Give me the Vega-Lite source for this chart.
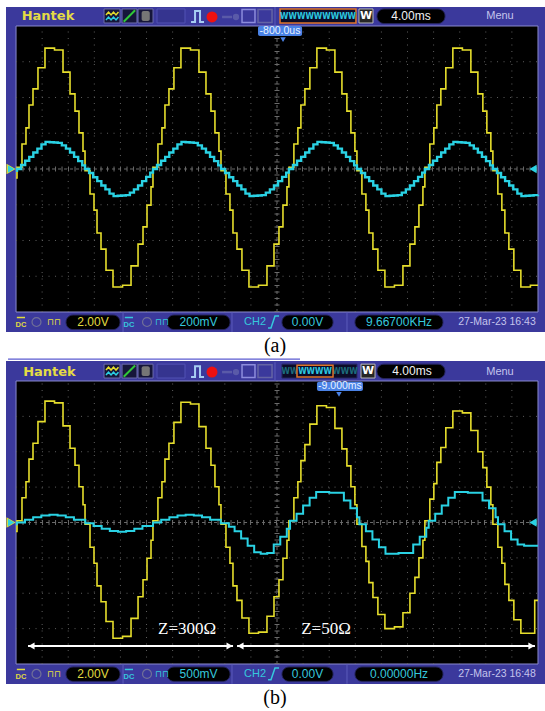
{
"$schema": "https://vega.github.io/schema/vega-lite/v6.json",
"background": "#ffffff",
"padding": {"left": 6, "top": 6, "right": 0, "bottom": 0},
"spacing": 29,
"bounds": "flush",
"config": {"view": {"stroke": null}},
"datasets": {
 "plot": [{"t": -32, "t2": 32, "v": -4, "v2": 4}],
 "vgrid": [{"t":-28.8,"v":-4,"v2":4},{"t":-25.6,"v":-4,"v2":4},{"t":-22.4,"v":-4,"v2":4},{"t":-19.2,"v":-4,"v2":4},{"t":-16,"v":-4,"v2":4},{"t":-12.8,"v":-4,"v2":4},{"t":-9.6,"v":-4,"v2":4},{"t":-6.4,"v":-4,"v2":4},{"t":-3.2,"v":-4,"v2":4},{"t":3.2,"v":-4,"v2":4},{"t":6.4,"v":-4,"v2":4},{"t":9.6,"v":-4,"v2":4},{"t":12.8,"v":-4,"v2":4},{"t":16,"v":-4,"v2":4},{"t":19.2,"v":-4,"v2":4},{"t":22.4,"v":-4,"v2":4},{"t":25.6,"v":-4,"v2":4},{"t":28.8,"v":-4,"v2":4}],
 "hgrid": [{"t":-32,"t2":32,"v":-3},{"t":-32,"t2":32,"v":-2},{"t":-32,"t2":32,"v":-1},{"t":-32,"t2":32,"v":1},{"t":-32,"t2":32,"v":2},{"t":-32,"t2":32,"v":3}],
 "hzero": [{"t": -32, "t2": 32, "v": 0}],
 "vzero": [{"t": 0, "v": -4, "v2": 4}],
 "iconBoxes": [{"t":-21.21,"t2":-19.25,"v":4.084,"v2":4.476},{"t":-19.0,"t2":-17.17,"v":4.084,"v2":4.476},{"t":-17.04,"t2":-15.2,"v":4.084,"v2":4.476}],
 "waveIconY": [{"i":1,"t":-20.97,"v":4.31},{"i":2,"t":-20.66,"v":4.39},{"i":3,"t":-20.35,"v":4.31},{"i":4,"t":-20.05,"v":4.39},{"i":5,"t":-19.74,"v":4.31},{"i":6,"t":-19.44,"v":4.39}],
 "waveIconC": [{"i":1,"t":-20.97,"v":4.17},{"i":2,"t":-20.66,"v":4.25},{"i":3,"t":-20.35,"v":4.17},{"i":4,"t":-20.05,"v":4.25},{"i":5,"t":-19.74,"v":4.17},{"i":6,"t":-19.44,"v":4.25}],
 "pulse": [{"i":1,"t":-10.54,"v":4.112},{"i":2,"t":-10.05,"v":4.112},{"i":3,"t":-10.05,"v":4.42},{"i":4,"t":-9.44,"v":4.42},{"i":5,"t":-9.44,"v":4.112},{"i":6,"t":-8.95,"v":4.112}],
 "edge": [{"i":1,"t":-1.1,"v":-4.448},{"i":2,"t":-0.74,"v":-4.448},{"i":3,"t":-0.25,"v":-4.112},{"i":4,"t":0.25,"v":-4.112}],
 "pills": [{"t":12.26,"t2":20.6,"v":4.07,"v2":4.476},{"t":-25.87,"t2":-19.25,"v":-4.49,"v2":-4.084},{"t":-13.49,"t2":-5.76,"v":-4.49,"v2":-4.084},{"t":0.61,"t2":6.87,"v":-4.49,"v2":-4.084},{"t":9.56,"t2":20.35,"v":-4.49,"v2":-4.084}],
 "seps": [{"t":-0.25,"v":4.0,"v2":4.531},{"t":-18.88,"v":-4.0,"v2":-4.559},{"t":-5.52,"v":-4.0,"v2":-4.559},{"t":8.58,"v":-4.0,"v2":-4.559}],
 "outlines": [{"t":-4.29,"t2":-2.7,"v":4.1,"v2":4.46}],
 "outlinesDim": [{"t":-2.33,"t2":-0.61,"v":4.1,"v2":4.46}],
 "ch1a": [{"t":-32,"v":-0.25},{"t":-31.88,"v":0.05},{"t":-31.27,"v":0.7},{"t":-30.78,"v":1.15},{"t":-30.41,"v":1.79},{"t":-29.92,"v":2.24},{"t":-29.31,"v":2.83},{"t":-28.45,"v":3.38},{"t":-27.28,"v":3.33},{"t":-26.24,"v":2.71},{"t":-25.38,"v":2.1},{"t":-24.77,"v":1.62},{"t":-24.28,"v":1.01},{"t":-23.79,"v":0.5},
  {"t":-23.54,"v":-0.05},{"t":-22.93,"v":-0.7},{"t":-22.44,"v":-1.15},{"t":-22.07,"v":-1.79},{"t":-21.58,"v":-2.24},{"t":-20.97,"v":-2.83},{"t":-20.11,"v":-3.3},{"t":-18.94,"v":-3.25},{"t":-17.9,"v":-2.71},{"t":-17.04,"v":-2.1},{"t":-16.43,"v":-1.62},{"t":-15.94,"v":-1.01},{"t":-15.45,"v":-0.5},
  {"t":-15.21,"v":0.05},{"t":-14.6,"v":0.7},{"t":-14.11,"v":1.15},{"t":-13.74,"v":1.79},{"t":-13.25,"v":2.24},{"t":-12.64,"v":2.83},{"t":-11.78,"v":3.38},{"t":-10.61,"v":3.33},{"t":-9.57,"v":2.71},{"t":-8.71,"v":2.1},{"t":-8.1,"v":1.62},{"t":-7.61,"v":1.01},{"t":-7.12,"v":0.5},
  {"t":-6.87,"v":-0.05},{"t":-6.26,"v":-0.7},{"t":-5.77,"v":-1.15},{"t":-5.4,"v":-1.79},{"t":-4.91,"v":-2.24},{"t":-4.3,"v":-2.83},{"t":-3.44,"v":-3.3},{"t":-2.27,"v":-3.25},{"t":-1.23,"v":-2.71},{"t":-0.37,"v":-2.1},{"t":0.24,"v":-1.62},{"t":0.73,"v":-1.01},{"t":1.22,"v":-0.5},
  {"t":1.46,"v":0.05},{"t":2.07,"v":0.7},{"t":2.56,"v":1.15},{"t":2.93,"v":1.79},{"t":3.42,"v":2.24},{"t":4.03,"v":2.83},{"t":4.89,"v":3.38},{"t":6.06,"v":3.33},{"t":7.1,"v":2.71},{"t":7.96,"v":2.1},{"t":8.57,"v":1.62},{"t":9.06,"v":1.01},{"t":9.55,"v":0.5},
  {"t":9.8,"v":-0.05},{"t":10.41,"v":-0.7},{"t":10.9,"v":-1.15},{"t":11.27,"v":-1.79},{"t":11.76,"v":-2.24},{"t":12.37,"v":-2.83},{"t":13.23,"v":-3.3},{"t":14.4,"v":-3.25},{"t":15.44,"v":-2.71},{"t":16.3,"v":-2.1},{"t":16.91,"v":-1.62},{"t":17.4,"v":-1.01},{"t":17.89,"v":-0.5},
  {"t":18.13,"v":0.05},{"t":18.74,"v":0.7},{"t":19.23,"v":1.15},{"t":19.6,"v":1.79},{"t":20.09,"v":2.24},{"t":20.7,"v":2.83},{"t":21.56,"v":3.38},{"t":22.73,"v":3.33},{"t":23.77,"v":2.71},{"t":24.63,"v":2.1},{"t":25.24,"v":1.62},{"t":25.73,"v":1.01},{"t":26.22,"v":0.5},
  {"t":26.47,"v":-0.05},{"t":27.08,"v":-0.7},{"t":27.57,"v":-1.15},{"t":27.94,"v":-1.79},{"t":28.43,"v":-2.24},{"t":29.04,"v":-2.83},{"t":29.9,"v":-3.3},{"t":31.07,"v":-3.25},{"t":32,"v":-3.25}],
 "ch1b": [{"t":-32,"v":-0.25},{"t":-31.88,"v":0.05},{"t":-31.27,"v":0.7},{"t":-30.78,"v":1.15},{"t":-30.41,"v":1.79},{"t":-29.92,"v":2.24},{"t":-29.31,"v":2.85},{"t":-28.45,"v":3.43},{"t":-27.28,"v":3.38},{"t":-26.24,"v":2.73},{"t":-25.38,"v":2.1},{"t":-24.77,"v":1.62},{"t":-24.28,"v":1.01},{"t":-23.79,"v":0.5},
  {"t":-23.54,"v":-0.05},{"t":-22.93,"v":-0.7},{"t":-22.44,"v":-1.15},{"t":-22.07,"v":-1.79},{"t":-21.58,"v":-2.24},{"t":-20.97,"v":-2.8},{"t":-20.11,"v":-3.27},{"t":-18.94,"v":-3.22},{"t":-17.9,"v":-2.71},{"t":-17.04,"v":-2.1},{"t":-16.43,"v":-1.62},{"t":-15.94,"v":-1.01},{"t":-15.45,"v":-0.5},
  {"t":-15.21,"v":0.05},{"t":-14.6,"v":0.7},{"t":-14.11,"v":1.15},{"t":-13.74,"v":1.79},{"t":-13.25,"v":2.24},{"t":-12.64,"v":2.83},{"t":-11.78,"v":3.4},{"t":-10.61,"v":3.35},{"t":-9.57,"v":2.71},{"t":-8.71,"v":2.1},{"t":-8.1,"v":1.62},{"t":-7.61,"v":1.01},{"t":-7.12,"v":0.5},
  {"t":-6.87,"v":-0.05},{"t":-6.26,"v":-0.7},{"t":-5.77,"v":-1.15},{"t":-5.4,"v":-1.79},{"t":-4.91,"v":-2.2},{"t":-4.3,"v":-2.7},{"t":-3.44,"v":-3.13},{"t":-2.27,"v":-3.1},{"t":-1.23,"v":-2.65},{"t":-0.37,"v":-2.1},{"t":0.24,"v":-1.62},{"t":0.73,"v":-1.01},{"t":1.22,"v":-0.5},
  {"t":1.46,"v":0.05},{"t":2.07,"v":0.7},{"t":2.56,"v":1.15},{"t":2.93,"v":1.75},{"t":3.42,"v":2.2},{"t":4.03,"v":2.78},{"t":4.89,"v":3.3},{"t":6.06,"v":3.25},{"t":7.1,"v":2.66},{"t":7.96,"v":2.08},{"t":8.57,"v":1.6},{"t":9.06,"v":1.01},{"t":9.55,"v":0.5},
  {"t":9.8,"v":-0.05},{"t":10.41,"v":-0.68},{"t":10.9,"v":-1.1},{"t":11.27,"v":-1.7},{"t":11.76,"v":-2.12},{"t":12.37,"v":-2.6},{"t":13.23,"v":-3.0},{"t":14.4,"v":-2.95},{"t":15.44,"v":-2.55},{"t":16.3,"v":-2.0},{"t":16.91,"v":-1.55},{"t":17.4,"v":-1.0},{"t":17.89,"v":-0.5},
  {"t":18.13,"v":0.05},{"t":18.74,"v":0.66},{"t":19.23,"v":1.1},{"t":19.6,"v":1.7},{"t":20.09,"v":2.12},{"t":20.7,"v":2.68},{"t":21.56,"v":3.15},{"t":22.73,"v":3.1},{"t":23.77,"v":2.6},{"t":24.63,"v":2.0},{"t":25.24,"v":1.55},{"t":25.73,"v":1.0},{"t":26.22,"v":0.5},
  {"t":26.47,"v":-0.05},{"t":27.08,"v":-0.7},{"t":27.57,"v":-1.15},{"t":27.94,"v":-1.75},{"t":28.43,"v":-2.2},{"t":29.04,"v":-2.75},{"t":29.9,"v":-3.13},{"t":31.6,"v":-2.2},{"t":32,"v":-2.2}],
 "ch2a": [{"t":-32,"v":-0.05},
  {"t":-31.88,"v":0},{"t":-31.38,"v":0.11},{"t":-30.88,"v":0.23},{"t":-30.38,"v":0.34},{"t":-29.88,"v":0.46},{"t":-29.38,"v":0.57},{"t":-28.88,"v":0.69},{"t":-28.38,"v":0.76},{"t":-27.88,"v":0.75},{"t":-27.38,"v":0.74},{"t":-26.88,"v":0.73},{"t":-26.38,"v":0.66},{"t":-25.88,"v":0.57},{"t":-25.38,"v":0.46},{"t":-24.88,"v":0.34},{"t":-24.38,"v":0.22},{"t":-23.88,"v":0.1},
  {"t":-23.54,"v":0},{"t":-23.04,"v":-0.11},{"t":-22.54,"v":-0.23},{"t":-22.04,"v":-0.34},{"t":-21.54,"v":-0.46},{"t":-21.04,"v":-0.57},{"t":-20.54,"v":-0.69},{"t":-20.04,"v":-0.76},{"t":-19.54,"v":-0.75},{"t":-19.04,"v":-0.74},{"t":-18.54,"v":-0.73},{"t":-18.04,"v":-0.66},{"t":-17.54,"v":-0.57},{"t":-17.04,"v":-0.46},{"t":-16.54,"v":-0.34},{"t":-16.04,"v":-0.22},{"t":-15.54,"v":-0.1},
  {"t":-15.21,"v":0},{"t":-14.71,"v":0.11},{"t":-14.21,"v":0.23},{"t":-13.71,"v":0.34},{"t":-13.21,"v":0.46},{"t":-12.71,"v":0.57},{"t":-12.21,"v":0.69},{"t":-11.71,"v":0.76},{"t":-11.21,"v":0.75},{"t":-10.71,"v":0.74},{"t":-10.21,"v":0.73},{"t":-9.71,"v":0.66},{"t":-9.21,"v":0.57},{"t":-8.71,"v":0.46},{"t":-8.21,"v":0.34},{"t":-7.71,"v":0.22},{"t":-7.21,"v":0.1},
  {"t":-6.87,"v":0},{"t":-6.37,"v":-0.11},{"t":-5.87,"v":-0.23},{"t":-5.37,"v":-0.34},{"t":-4.87,"v":-0.46},{"t":-4.37,"v":-0.57},{"t":-3.87,"v":-0.69},{"t":-3.37,"v":-0.76},{"t":-2.87,"v":-0.75},{"t":-2.37,"v":-0.74},{"t":-1.87,"v":-0.73},{"t":-1.37,"v":-0.66},{"t":-0.87,"v":-0.57},{"t":-0.37,"v":-0.46},{"t":0.13,"v":-0.34},{"t":0.63,"v":-0.22},{"t":1.13,"v":-0.1},
  {"t":1.46,"v":0},{"t":1.96,"v":0.11},{"t":2.46,"v":0.23},{"t":2.96,"v":0.34},{"t":3.46,"v":0.46},{"t":3.96,"v":0.57},{"t":4.46,"v":0.69},{"t":4.96,"v":0.76},{"t":5.46,"v":0.75},{"t":5.96,"v":0.74},{"t":6.46,"v":0.73},{"t":6.96,"v":0.66},{"t":7.46,"v":0.57},{"t":7.96,"v":0.46},{"t":8.46,"v":0.34},{"t":8.96,"v":0.22},{"t":9.46,"v":0.1},
  {"t":9.8,"v":0},{"t":10.3,"v":-0.11},{"t":10.8,"v":-0.23},{"t":11.3,"v":-0.34},{"t":11.8,"v":-0.46},{"t":12.3,"v":-0.57},{"t":12.8,"v":-0.69},{"t":13.3,"v":-0.76},{"t":13.8,"v":-0.75},{"t":14.3,"v":-0.74},{"t":14.8,"v":-0.73},{"t":15.3,"v":-0.66},{"t":15.8,"v":-0.57},{"t":16.3,"v":-0.46},{"t":16.8,"v":-0.34},{"t":17.3,"v":-0.22},{"t":17.8,"v":-0.1},
  {"t":18.13,"v":0},{"t":18.63,"v":0.11},{"t":19.13,"v":0.23},{"t":19.63,"v":0.34},{"t":20.13,"v":0.46},{"t":20.63,"v":0.57},{"t":21.13,"v":0.69},{"t":21.63,"v":0.76},{"t":22.13,"v":0.75},{"t":22.63,"v":0.74},{"t":23.13,"v":0.73},{"t":23.63,"v":0.66},{"t":24.13,"v":0.57},{"t":24.63,"v":0.46},{"t":25.13,"v":0.34},{"t":25.63,"v":0.22},{"t":26.13,"v":0.1},
  {"t":26.47,"v":0},{"t":26.97,"v":-0.11},{"t":27.47,"v":-0.23},{"t":27.97,"v":-0.34},{"t":28.47,"v":-0.46},{"t":28.97,"v":-0.57},{"t":29.47,"v":-0.69},{"t":29.97,"v":-0.76},{"t":30.47,"v":-0.75},{"t":30.97,"v":-0.74},{"t":31.47,"v":-0.73},{"t":32,"v":-0.72}],
 "ch2b": [{"t":-32,"v":-0.05},{"t":-31.9,"v":0},{"t":-30.9,"v":0.08},{"t":-29.9,"v":0.15},{"t":-28.9,"v":0.2},{"t":-27.9,"v":0.22},{"t":-26.9,"v":0.2},{"t":-25.9,"v":0.15},{"t":-24.9,"v":0.08},
  {"t":-23.5,"v":-0.02},{"t":-22.5,"v":-0.1},{"t":-21.5,"v":-0.18},{"t":-20.5,"v":-0.24},{"t":-19.5,"v":-0.26},{"t":-18.5,"v":-0.24},{"t":-17.5,"v":-0.18},{"t":-16.5,"v":-0.1},
  {"t":-15.2,"v":0},{"t":-14.2,"v":0.08},{"t":-13.2,"v":0.15},{"t":-12.2,"v":0.2},{"t":-11.2,"v":0.22},{"t":-10.2,"v":0.2},{"t":-9.2,"v":0.15},{"t":-8.2,"v":0.08},
  {"t":-6.9,"v":-0.02},{"t":-5.9,"v":-0.12},{"t":-5.2,"v":-0.25},{"t":-4.4,"v":-0.45},{"t":-3.6,"v":-0.66},{"t":-2.8,"v":-0.84},{"t":-2.0,"v":-0.88},{"t":-1.2,"v":-0.86},{"t":-0.4,"v":-0.62},{"t":0.4,"v":-0.4},{"t":1.2,"v":-0.18},
  {"t":1.6,"v":0.05},{"t":2.4,"v":0.25},{"t":3.2,"v":0.48},{"t":4.0,"v":0.7},{"t":4.8,"v":0.86},{"t":5.6,"v":0.86},{"t":6.4,"v":0.84},{"t":7.2,"v":0.84},{"t":8.2,"v":0.62},{"t":9.0,"v":0.4},{"t":9.8,"v":0.15},
  {"t":10.1,"v":-0.05},{"t":10.9,"v":-0.25},{"t":11.7,"v":-0.48},{"t":12.5,"v":-0.7},{"t":13.3,"v":-0.88},{"t":14.1,"v":-0.88},{"t":14.9,"v":-0.86},{"t":15.7,"v":-0.86},{"t":16.7,"v":-0.62},{"t":17.5,"v":-0.4},{"t":18.3,"v":-0.15},
  {"t":18.6,"v":0.05},{"t":19.4,"v":0.25},{"t":20.2,"v":0.48},{"t":21.0,"v":0.7},{"t":21.8,"v":0.86},{"t":22.6,"v":0.86},{"t":23.4,"v":0.84},{"t":24.2,"v":0.84},{"t":25.2,"v":0.62},{"t":26.0,"v":0.4},{"t":26.8,"v":0.15},
  {"t":27.1,"v":-0.05},{"t":27.9,"v":-0.25},{"t":28.7,"v":-0.48},{"t":29.5,"v":-0.62},{"t":30.3,"v":-0.66},{"t":32,"v":-0.66}]
},
"vconcat": [
{
 "width": 539, "height": 325,
 "view": {"fill": "#3b399c", "stroke": null},
 "encoding": {
  "x": {"field": "t", "type": "quantitative", "scale": {"domain": [-33.23, 32.86], "nice": false, "zero": false}, "axis": null},
  "y": {"field": "v", "type": "quantitative", "scale": {"domain": [-4.559, 4.531], "nice": false, "zero": false}, "axis": null}
 },
 "layer": [
  {"data": {"name": "plot"}, "mark": {"type": "rect", "fill": "#000000", "stroke": "#8a8ace", "strokeWidth": 1}, "encoding": {"x2": {"field": "t2"}, "y2": {"field": "v2"}}},
  {"data": {"name": "vgrid"}, "mark": {"type": "rule", "stroke": "#5e5e5e", "strokeWidth": 1, "strokeDash": [1, 5.5]}, "encoding": {"y2": {"field": "v2"}}},
  {"data": {"name": "hgrid"}, "mark": {"type": "rule", "stroke": "#5e5e5e", "strokeWidth": 1, "strokeDash": [1, 5.5]}, "encoding": {"x2": {"field": "t2"}}},
  {"data": {"name": "hzero"}, "mark": {"type": "rule", "stroke": "#6a6a6a", "strokeWidth": 1, "strokeDash": [3, 3]}, "encoding": {"x2": {"field": "t2"}}},
  {"data": {"name": "hzero"}, "mark": {"type": "rule", "stroke": "#6a6a6a", "strokeWidth": 5, "strokeDash": [1, 5.5]}, "encoding": {"x2": {"field": "t2"}}},
  {"data": {"name": "vzero"}, "mark": {"type": "rule", "stroke": "#6a6a6a", "strokeWidth": 1, "strokeDash": [3, 3]}, "encoding": {"y2": {"field": "v2"}}},
  {"data": {"name": "vzero"}, "mark": {"type": "rule", "stroke": "#6a6a6a", "strokeWidth": 5, "strokeDash": [1, 5.5]}, "encoding": {"y2": {"field": "v2"}}},
  {"data": {"name": "ch1a"}, "mark": {"type": "line", "interpolate": "step-after", "stroke": "#e6de2c", "strokeWidth": 1.6}, "encoding": {}},
  {"data": {"name": "ch2a"}, "mark": {"type": "line", "interpolate": "step-after", "stroke": "#2ad2e4", "strokeWidth": 2.4}, "encoding": {}},
  {"data": {"values": [{"t": -32.61, "v": 0}]}, "mark": {"type": "point", "shape": "triangle-right", "filled": true, "fill": "#e6de2c", "size": 110, "opacity": 1}, "encoding": {}},
  {"data": {"values": [{"t": -32.61, "v": 0}]}, "mark": {"type": "point", "shape": "triangle-right", "filled": true, "fill": "#2ad2e4", "size": 55, "opacity": 1}, "encoding": {}},
  {"data": {"values": [{"t": 31.39, "v": 0}]}, "mark": {"type": "point", "shape": "triangle-left", "filled": true, "fill": "#2ad2e4", "size": 70, "opacity": 1}, "encoding": {}},
  {"data": {"name": "iconBoxes"}, "mark": {"type": "rect", "fill": "#16163a", "stroke": "#6c6cac", "strokeWidth": 1}, "encoding": {"x2": {"field": "t2"}, "y2": {"field": "v2"}}},
  {"data": {"values": [{"t": -16.6, "t2": -15.6, "v": 4.14, "v2": 4.42}]}, "mark": {"type": "rect", "fill": "#767676", "cornerRadius": 2}, "encoding": {"x2": {"field": "t2"}, "y2": {"field": "v2"}}},
  {"data": {"values": [{"t": -18.8, "t2": -17.4, "v": 4.12, "v2": 4.44}]}, "mark": {"type": "rule", "stroke": "#30c838", "strokeWidth": 2}, "encoding": {"x2": {"field": "t2"}, "y2": {"field": "v2"}}},
  {"data": {"name": "waveIconY"}, "mark": {"type": "line", "stroke": "#e6de2c", "strokeWidth": 1.5}, "encoding": {"order": {"field": "i"}}},
  {"data": {"name": "waveIconC"}, "mark": {"type": "line", "stroke": "#2ad2e4", "strokeWidth": 1.5}, "encoding": {"order": {"field": "i"}}},
  {"data": {"values": [{"t": -14.71, "t2": -11.28, "v": 4.084, "v2": 4.476}]}, "mark": {"type": "rect", "fill": "#35348f", "stroke": "#5252b4", "strokeWidth": 1}, "encoding": {"x2": {"field": "t2"}, "y2": {"field": "v2"}}},
  {"data": {"name": "pulse"}, "mark": {"type": "line", "stroke": "#a6cdf2", "strokeWidth": 2}, "encoding": {"order": {"field": "i"}}},
  {"data": {"values": [{"t": -7.97, "v": 4.252}]}, "mark": {"type": "point", "shape": "circle", "filled": true, "fill": "#ee1111", "size": 120, "opacity": 1}, "encoding": {}},
  {"data": {"values": [{"t": -6.74, "t2": -5.52, "v": 4.252}]}, "mark": {"type": "rule", "stroke": "#5a5aa8", "strokeWidth": 2.5}, "encoding": {"x2": {"field": "t2"}}},
  {"data": {"values": [{"t": -5.03, "v": 4.252}]}, "mark": {"type": "point", "shape": "circle", "filled": true, "fill": "#5a5aa8", "size": 40, "opacity": 1}, "encoding": {}},
  {"data": {"name": "outlines"}, "mark": {"type": "rect", "fillOpacity": 0, "stroke": "#8c8cdc", "strokeWidth": 1.5}, "encoding": {"x2": {"field": "t2"}, "y2": {"field": "v2"}}},
  {"data": {"name": "outlinesDim"}, "mark": {"type": "rect", "fillOpacity": 0, "stroke": "#6464a4", "strokeWidth": 1.5}, "encoding": {"x2": {"field": "t2"}, "y2": {"field": "v2"}}},
  {"data": {"name": "seps"}, "mark": {"type": "rule", "stroke": "#5c5cbc", "strokeWidth": 1}, "encoding": {"y2": {"field": "v2"}}},
  {"data": {"values": [{"t": 0.37, "t2": 9.68, "v": 4.084, "v2": 4.476}]}, "mark": {"type": "rect", "fill": "#0c0c28", "stroke": "#e0742a", "strokeWidth": 1.5}, "encoding": {"x2": {"field": "t2"}, "y2": {"field": "v2"}}},
  {"data": {"values": [{"t": 5.03, "v": 4.28, "s": "WWWWWWWWW"}]}, "mark": {"type": "text", "fill": "#2cc8e0", "font": "DejaVu Sans Condensed", "fontSize": 8.5, "fontWeight": "bold"}, "encoding": {"text": {"field": "s"}}},
  {"data": {"values": [{"t": 10.05, "t2": 11.77, "v": 4.084, "v2": 4.476}]}, "mark": {"type": "rect", "fill": "#262626", "stroke": "#b8b8b8", "strokeWidth": 1}, "encoding": {"x2": {"field": "t2"}, "y2": {"field": "v2"}}},
  {"data": {"values": [{"t": 10.91, "v": 4.27, "s": "W"}]}, "mark": {"type": "text", "fill": "#ffffff", "font": "DejaVu Sans", "fontSize": 11, "fontWeight": "bold"}, "encoding": {"text": {"field": "s"}}},
  {"data": {"name": "pills"}, "mark": {"type": "rect", "fill": "#000000", "stroke": "#24245a", "strokeWidth": 1, "cornerRadius": 7}, "encoding": {"x2": {"field": "t2"}, "y2": {"field": "v2"}}},
  {"data": {"values": [{"t": 16.43, "v": 4.27, "s": "4.00ms"}]}, "mark": {"type": "text", "fill": "#f2f2f2", "font": "Liberation Sans", "fontSize": 12}, "encoding": {"text": {"field": "s"}}},
  {"data": {"values": [{"t": -28.08, "v": 4.266, "s": "Hantek"}]}, "mark": {"type": "text", "fill": "#e4dc44", "font": "DejaVu Sans", "fontSize": 13, "fontWeight": "bold"}, "encoding": {"text": {"field": "s"}}},
  {"data": {"values": [{"t": 27.34, "v": 4.266, "s": "Menu"}]}, "mark": {"type": "text", "fill": "#c4c4ec", "font": "Liberation Sans", "fontSize": 11}, "encoding": {"text": {"field": "s"}}},
  {"data": {"values": [{"t": 26.97, "v": -4.28, "s": "27-Mar-23 16:43"}]}, "mark": {"type": "text", "fill": "#c4c4ec", "font": "Liberation Sans", "fontSize": 10.5}, "encoding": {"text": {"field": "s"}}},
  {"data": {"values": [{"t": -31.39, "v": -4.36, "s": "DC"}]}, "mark": {"type": "text", "fill": "#e0dc40", "font": "Liberation Sans", "fontSize": 7.5, "fontWeight": "bold"}, "encoding": {"text": {"field": "s"}}},
  {"data": {"values": [{"t": -18.15, "v": -4.36, "s": "DC"}]}, "mark": {"type": "text", "fill": "#36c8dc", "font": "Liberation Sans", "fontSize": 7.5, "fontWeight": "bold"}, "encoding": {"text": {"field": "s"}}},
  {"data": {"values": [{"t": -27.34, "v": -4.27, "s": "⊓⊓"}]}, "mark": {"type": "text", "fill": "#e0dc40", "font": "DejaVu Sans", "fontSize": 9}, "encoding": {"text": {"field": "s"}}},
  {"data": {"values": [{"t": -14.1, "v": -4.27, "s": "⊓⊓"}]}, "mark": {"type": "text", "fill": "#36c8dc", "font": "DejaVu Sans", "fontSize": 9}, "encoding": {"text": {"field": "s"}}},
  {"data": {"values": [{"t": -22.56, "v": -4.28, "s": "2.00V"}]}, "mark": {"type": "text", "fill": "#e0dc40", "font": "Liberation Sans", "fontSize": 12}, "encoding": {"text": {"field": "s"}}},
  {"data": {"values": [{"t": -9.62, "v": -4.28, "s": "200mV"}, {"t": 3.74, "v": -4.28, "s": "0.00V"}, {"t": 14.96, "v": -4.28, "s": "9.66700KHz"}]}, "mark": {"type": "text", "fill": "#36c8dc", "font": "Liberation Sans", "fontSize": 12}, "encoding": {"text": {"field": "s"}}},
  {"data": {"values": [{"t": -2.7, "v": -4.28, "s": "CH2"}]}, "mark": {"type": "text", "fill": "#36c8dc", "font": "Liberation Sans", "fontSize": 11}, "encoding": {"text": {"field": "s"}}},
  {"data": {"values": [{"t": -31.9, "t2": -30.9, "v": -4.154}]}, "mark": {"type": "rule", "stroke": "#e0dc40", "strokeWidth": 1.5}, "encoding": {"x2": {"field": "t2"}}},
  {"data": {"values": [{"t": -18.66, "t2": -17.66, "v": -4.154}]}, "mark": {"type": "rule", "stroke": "#36c8dc", "strokeWidth": 1.5}, "encoding": {"x2": {"field": "t2"}}},
  {"data": {"values": [{"t": -29.49, "v": -4.28}, {"t": -15.94, "v": -4.28}]}, "mark": {"type": "point", "shape": "circle", "filled": false, "stroke": "#707098", "strokeWidth": 1.2, "size": 80, "opacity": 1}, "encoding": {}},
  {"data": {"name": "edge"}, "mark": {"type": "line", "stroke": "#36c8dc", "strokeWidth": 1.5}, "encoding": {"order": {"field": "i"}}},
  {"data": {"values": [{"t": -2.33, "t2": 3.07, "v": 3.72, "v2": 4.0}]}, "mark": {"type": "rect", "fill": "#4a82e6", "cornerRadius": 2}, "encoding": {"x2": {"field": "t2"}, "y2": {"field": "v2"}}},
  {"data": {"values": [{"t": 0.74, "v": 3.62}]}, "mark": {"type": "point", "shape": "triangle-down", "filled": true, "fill": "#4a82e6", "size": 30, "opacity": 1}, "encoding": {}},
  {"data": {"values": [{"t": 0.37, "v": 3.86, "s": "-800.0us"}]}, "mark": {"type": "text", "fill": "#e8f2ff", "font": "Liberation Sans", "fontSize": 10.5}, "encoding": {"text": {"field": "s"}}},
  {"data": {"values": [{"t": -0.25, "v": -4.95, "s": "(a)"}]}, "mark": {"type": "text", "fill": "#000000", "font": "Liberation Serif", "fontSize": 20}, "encoding": {"text": {"field": "s"}}},
  {"data": {"values": [{"t": -32.98, "t2": 2.82, "v": -5.315}]}, "mark": {"type": "rule", "stroke": "#5b5bd0", "strokeWidth": 1.2}, "encoding": {"x2": {"field": "t2"}}}
 ]
},
{
 "width": 539, "height": 323,
 "view": {"fill": "#3b399c", "stroke": null},
 "encoding": {
  "x": {"field": "t", "type": "quantitative", "scale": {"domain": [-33.23, 32.86], "nice": false, "zero": false}, "axis": null},
  "y": {"field": "v", "type": "quantitative", "scale": {"domain": [-4.565, 4.565], "nice": false, "zero": false}, "axis": null}
 },
 "layer": [
  {"data": {"name": "plot"}, "mark": {"type": "rect", "fill": "#000000", "stroke": "#8a8ace", "strokeWidth": 1}, "encoding": {"x2": {"field": "t2"}, "y2": {"field": "v2"}}},
  {"data": {"name": "vgrid"}, "mark": {"type": "rule", "stroke": "#5e5e5e", "strokeWidth": 1, "strokeDash": [1, 5.5]}, "encoding": {"y2": {"field": "v2"}}},
  {"data": {"name": "hgrid"}, "mark": {"type": "rule", "stroke": "#5e5e5e", "strokeWidth": 1, "strokeDash": [1, 5.5]}, "encoding": {"x2": {"field": "t2"}}},
  {"data": {"name": "hzero"}, "mark": {"type": "rule", "stroke": "#6a6a6a", "strokeWidth": 1, "strokeDash": [3, 3]}, "encoding": {"x2": {"field": "t2"}}},
  {"data": {"name": "hzero"}, "mark": {"type": "rule", "stroke": "#6a6a6a", "strokeWidth": 5, "strokeDash": [1, 5.5]}, "encoding": {"x2": {"field": "t2"}}},
  {"data": {"name": "vzero"}, "mark": {"type": "rule", "stroke": "#6a6a6a", "strokeWidth": 1, "strokeDash": [3, 3]}, "encoding": {"y2": {"field": "v2"}}},
  {"data": {"name": "vzero"}, "mark": {"type": "rule", "stroke": "#6a6a6a", "strokeWidth": 5, "strokeDash": [1, 5.5]}, "encoding": {"y2": {"field": "v2"}}},
  {"data": {"name": "ch1b"}, "mark": {"type": "line", "interpolate": "step-after", "stroke": "#e6de2c", "strokeWidth": 1.6}, "encoding": {}},
  {"data": {"name": "ch2b"}, "mark": {"type": "line", "interpolate": "step-after", "stroke": "#2ad2e4", "strokeWidth": 2}, "encoding": {}},
  {"data": {"values": [{"t": -32.61, "v": 0}]}, "mark": {"type": "point", "shape": "triangle-right", "filled": true, "fill": "#e6de2c", "size": 110, "opacity": 1}, "encoding": {}},
  {"data": {"values": [{"t": -32.61, "v": 0}]}, "mark": {"type": "point", "shape": "triangle-right", "filled": true, "fill": "#2ad2e4", "size": 55, "opacity": 1}, "encoding": {}},
  {"data": {"values": [{"t": 31.39, "v": 0}]}, "mark": {"type": "point", "shape": "triangle-left", "filled": true, "fill": "#2ad2e4", "size": 70, "opacity": 1}, "encoding": {}},
  {"data": {"values": [{"t": -11.03, "v": -3.02, "s": "Z=300Ω"}, {"t": 6.01, "v": -3.02, "s": "Z=50Ω"}]}, "mark": {"type": "text", "fill": "#ffffff", "font": "Liberation Serif", "fontSize": 17}, "encoding": {"text": {"field": "s"}}},
  {"data": {"values": [{"t": -30.53, "t2": -5.39, "v": -3.49}, {"t": -4.9, "t2": 31.63, "v": -3.49}]}, "mark": {"type": "rule", "stroke": "#ffffff", "strokeWidth": 2}, "encoding": {"x2": {"field": "t2"}}},
  {"data": {"values": [{"t": -30.1, "v": -3.49}, {"t": -4.48, "v": -3.49}]}, "mark": {"type": "point", "shape": "triangle-left", "filled": true, "fill": "#ffffff", "size": 50, "opacity": 1}, "encoding": {}},
  {"data": {"values": [{"t": -5.82, "v": -3.49}, {"t": 31.2, "v": -3.49}]}, "mark": {"type": "point", "shape": "triangle-right", "filled": true, "fill": "#ffffff", "size": 50, "opacity": 1}, "encoding": {}},
  {"data": {"name": "iconBoxes"}, "mark": {"type": "rect", "fill": "#16163a", "stroke": "#6c6cac", "strokeWidth": 1}, "encoding": {"x2": {"field": "t2"}, "y2": {"field": "v2"}}},
  {"data": {"values": [{"t": -16.6, "t2": -15.6, "v": 4.14, "v2": 4.42}]}, "mark": {"type": "rect", "fill": "#767676", "cornerRadius": 2}, "encoding": {"x2": {"field": "t2"}, "y2": {"field": "v2"}}},
  {"data": {"values": [{"t": -18.8, "t2": -17.4, "v": 4.12, "v2": 4.44}]}, "mark": {"type": "rule", "stroke": "#30c838", "strokeWidth": 2}, "encoding": {"x2": {"field": "t2"}, "y2": {"field": "v2"}}},
  {"data": {"name": "waveIconY"}, "mark": {"type": "line", "stroke": "#e6de2c", "strokeWidth": 1.5}, "encoding": {"order": {"field": "i"}}},
  {"data": {"name": "waveIconC"}, "mark": {"type": "line", "stroke": "#2ad2e4", "strokeWidth": 1.5}, "encoding": {"order": {"field": "i"}}},
  {"data": {"values": [{"t": -14.71, "t2": -11.28, "v": 4.084, "v2": 4.476}]}, "mark": {"type": "rect", "fill": "#35348f", "stroke": "#5252b4", "strokeWidth": 1}, "encoding": {"x2": {"field": "t2"}, "y2": {"field": "v2"}}},
  {"data": {"name": "pulse"}, "mark": {"type": "line", "stroke": "#a6cdf2", "strokeWidth": 2}, "encoding": {"order": {"field": "i"}}},
  {"data": {"values": [{"t": -7.97, "v": 4.252}]}, "mark": {"type": "point", "shape": "circle", "filled": true, "fill": "#ee1111", "size": 120, "opacity": 1}, "encoding": {}},
  {"data": {"values": [{"t": -6.74, "t2": -5.52, "v": 4.252}]}, "mark": {"type": "rule", "stroke": "#5a5aa8", "strokeWidth": 2.5}, "encoding": {"x2": {"field": "t2"}}},
  {"data": {"values": [{"t": -5.03, "v": 4.252}]}, "mark": {"type": "point", "shape": "circle", "filled": true, "fill": "#5a5aa8", "size": 40, "opacity": 1}, "encoding": {}},
  {"data": {"name": "outlines"}, "mark": {"type": "rect", "fillOpacity": 0, "stroke": "#8c8cdc", "strokeWidth": 1.5}, "encoding": {"x2": {"field": "t2"}, "y2": {"field": "v2"}}},
  {"data": {"name": "outlinesDim"}, "mark": {"type": "rect", "fillOpacity": 0, "stroke": "#6464a4", "strokeWidth": 1.5}, "encoding": {"x2": {"field": "t2"}, "y2": {"field": "v2"}}},
  {"data": {"name": "seps"}, "mark": {"type": "rule", "stroke": "#5c5cbc", "strokeWidth": 1}, "encoding": {"y2": {"field": "v2"}}},
  {"data": {"values": [{"t": 0.61, "t2": 9.8, "v": 4.084, "v2": 4.476}]}, "mark": {"type": "rect", "fill": "#0c0c28", "stroke": "#26265e", "strokeWidth": 1}, "encoding": {"x2": {"field": "t2"}, "y2": {"field": "v2"}}},
  {"data": {"values": [{"t": 1.59, "v": 4.28, "s": "WW"}, {"t": 8.34, "v": 4.28, "s": "WWW"}]}, "mark": {"type": "text", "fill": "#1c6c7c", "font": "DejaVu Sans Condensed", "fontSize": 8.5, "fontWeight": "bold"}, "encoding": {"text": {"field": "s"}}},
  {"data": {"values": [{"t": 2.45, "t2": 6.87, "v": 4.112, "v2": 4.448}]}, "mark": {"type": "rect", "fill": "#0c0c28", "stroke": "#e0742a", "strokeWidth": 1.5}, "encoding": {"x2": {"field": "t2"}, "y2": {"field": "v2"}}},
  {"data": {"values": [{"t": 4.66, "v": 4.28, "s": "WWWW"}]}, "mark": {"type": "text", "fill": "#2cc8e0", "font": "DejaVu Sans Condensed", "fontSize": 8.5, "fontWeight": "bold"}, "encoding": {"text": {"field": "s"}}},
  {"data": {"values": [{"t": 10.3, "t2": 12.02, "v": 4.084, "v2": 4.476}]}, "mark": {"type": "rect", "fill": "#262626", "stroke": "#b8b8b8", "strokeWidth": 1}, "encoding": {"x2": {"field": "t2"}, "y2": {"field": "v2"}}},
  {"data": {"values": [{"t": 11.16, "v": 4.27, "s": "W"}]}, "mark": {"type": "text", "fill": "#ffffff", "font": "DejaVu Sans", "fontSize": 11, "fontWeight": "bold"}, "encoding": {"text": {"field": "s"}}},
  {"data": {"name": "pills"}, "mark": {"type": "rect", "fill": "#000000", "stroke": "#24245a", "strokeWidth": 1, "cornerRadius": 7}, "encoding": {"x2": {"field": "t2"}, "y2": {"field": "v2"}}},
  {"data": {"values": [{"t": 16.55, "v": 4.27, "s": "4.00ms"}]}, "mark": {"type": "text", "fill": "#f2f2f2", "font": "Liberation Sans", "fontSize": 12}, "encoding": {"text": {"field": "s"}}},
  {"data": {"values": [{"t": -27.9, "v": 4.266, "s": "Hantek"}]}, "mark": {"type": "text", "fill": "#e4dc44", "font": "DejaVu Sans", "fontSize": 13, "fontWeight": "bold"}, "encoding": {"text": {"field": "s"}}},
  {"data": {"values": [{"t": 27.34, "v": 4.266, "s": "Menu"}]}, "mark": {"type": "text", "fill": "#c4c4ec", "font": "Liberation Sans", "fontSize": 11}, "encoding": {"text": {"field": "s"}}},
  {"data": {"values": [{"t": 26.97, "v": -4.28, "s": "27-Mar-23 16:48"}]}, "mark": {"type": "text", "fill": "#c4c4ec", "font": "Liberation Sans", "fontSize": 10.5}, "encoding": {"text": {"field": "s"}}},
  {"data": {"values": [{"t": -31.39, "v": -4.36, "s": "DC"}]}, "mark": {"type": "text", "fill": "#e0dc40", "font": "Liberation Sans", "fontSize": 7.5, "fontWeight": "bold"}, "encoding": {"text": {"field": "s"}}},
  {"data": {"values": [{"t": -18.15, "v": -4.36, "s": "DC"}]}, "mark": {"type": "text", "fill": "#36c8dc", "font": "Liberation Sans", "fontSize": 7.5, "fontWeight": "bold"}, "encoding": {"text": {"field": "s"}}},
  {"data": {"values": [{"t": -27.34, "v": -4.27, "s": "⊓⊓"}]}, "mark": {"type": "text", "fill": "#e0dc40", "font": "DejaVu Sans", "fontSize": 9}, "encoding": {"text": {"field": "s"}}},
  {"data": {"values": [{"t": -14.1, "v": -4.27, "s": "⊓⊓"}]}, "mark": {"type": "text", "fill": "#36c8dc", "font": "DejaVu Sans", "fontSize": 9}, "encoding": {"text": {"field": "s"}}},
  {"data": {"values": [{"t": -22.56, "v": -4.28, "s": "2.00V"}]}, "mark": {"type": "text", "fill": "#e0dc40", "font": "Liberation Sans", "fontSize": 12}, "encoding": {"text": {"field": "s"}}},
  {"data": {"values": [{"t": -9.62, "v": -4.28, "s": "500mV"}, {"t": 3.74, "v": -4.28, "s": "0.00V"}, {"t": 14.96, "v": -4.28, "s": "0.00000Hz"}]}, "mark": {"type": "text", "fill": "#36c8dc", "font": "Liberation Sans", "fontSize": 12}, "encoding": {"text": {"field": "s"}}},
  {"data": {"values": [{"t": -2.7, "v": -4.28, "s": "CH2"}]}, "mark": {"type": "text", "fill": "#36c8dc", "font": "Liberation Sans", "fontSize": 11}, "encoding": {"text": {"field": "s"}}},
  {"data": {"values": [{"t": -31.9, "t2": -30.9, "v": -4.154}]}, "mark": {"type": "rule", "stroke": "#e0dc40", "strokeWidth": 1.5}, "encoding": {"x2": {"field": "t2"}}},
  {"data": {"values": [{"t": -18.66, "t2": -17.66, "v": -4.154}]}, "mark": {"type": "rule", "stroke": "#36c8dc", "strokeWidth": 1.5}, "encoding": {"x2": {"field": "t2"}}},
  {"data": {"values": [{"t": -29.49, "v": -4.28}, {"t": -15.94, "v": -4.28}]}, "mark": {"type": "point", "shape": "circle", "filled": false, "stroke": "#707098", "strokeWidth": 1.2, "size": 80, "opacity": 1}, "encoding": {}},
  {"data": {"name": "edge"}, "mark": {"type": "line", "stroke": "#36c8dc", "strokeWidth": 1.5}, "encoding": {"order": {"field": "i"}}},
  {"data": {"values": [{"t": 4.9, "t2": 10.54, "v": 3.72, "v2": 3.98}]}, "mark": {"type": "rect", "fill": "#4a82e6", "cornerRadius": 2}, "encoding": {"x2": {"field": "t2"}, "y2": {"field": "v2"}}},
  {"data": {"values": [{"t": 7.6, "v": 3.62}]}, "mark": {"type": "point", "shape": "triangle-down", "filled": true, "fill": "#4a82e6", "size": 30, "opacity": 1}, "encoding": {}},
  {"data": {"values": [{"t": 7.72, "v": 3.85, "s": "-9.000ms"}]}, "mark": {"type": "text", "fill": "#e8f2ff", "font": "Liberation Sans", "fontSize": 10.5}, "encoding": {"text": {"field": "s"}}},
  {"data": {"values": [{"t": -0.25, "v": -4.96, "s": "(b)"}]}, "mark": {"type": "text", "fill": "#000000", "font": "Liberation Serif", "fontSize": 20}, "encoding": {"text": {"field": "s"}}}
 ]
}
]
}
